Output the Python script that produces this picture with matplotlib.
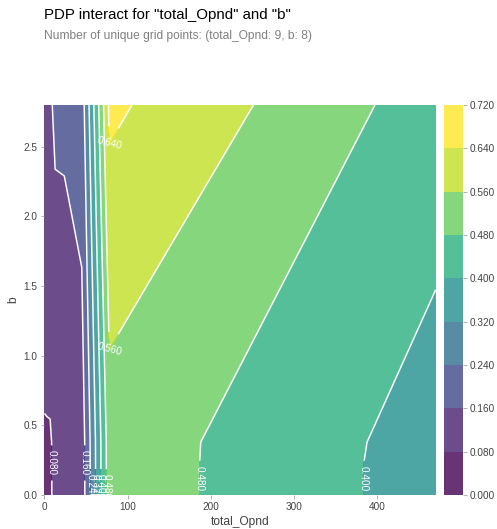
import numpy as np
import matplotlib
matplotlib.use("Agg")
import matplotlib.pyplot as plt
from matplotlib.colors import Normalize

plt.rcParams["font.family"] = ["Liberation Sans", "DejaVu Sans"]

# grid points of the two features
total_opnd_grid = [0, 1, 3, 7, 13, 24, 45, 78, 470]
b_grid = [0.0, 0.01, 0.03, 0.06, 0.12, 0.23, 0.38, 2.8]

# partial dependence values: one row per b grid point, across total_Opnd grid
pdp_b_000 = [0.070, 0.071, 0.072, 0.074, 0.092, 0.100, 0.115, 0.524, 0.365]
pdp_b_001 = [0.070, 0.071, 0.072, 0.074, 0.092, 0.100, 0.115, 0.524, 0.365]
pdp_b_003 = [0.070, 0.071, 0.072, 0.074, 0.092, 0.100, 0.115, 0.524, 0.365]
pdp_b_006 = [0.070, 0.071, 0.072, 0.074, 0.092, 0.100, 0.115, 0.524, 0.365]
pdp_b_012 = [0.070, 0.071, 0.072, 0.074, 0.092, 0.100, 0.115, 0.524, 0.365]
pdp_b_023 = [0.070, 0.071, 0.072, 0.074, 0.092, 0.100, 0.115, 0.524, 0.365]
pdp_b_038 = [0.074, 0.074, 0.0745, 0.075, 0.092, 0.100, 0.117, 0.524, 0.367]
pdp_b_280 = [0.145, 0.146, 0.147, 0.148, 0.176, 0.176, 0.200, 0.655, 0.440]

contour_levels = [0.000, 0.080, 0.160, 0.240, 0.320, 0.400, 0.480, 0.560, 0.640, 0.720]

title = 'PDP interact for "total_Opnd" and "b"'
subtitle = "Number of unique grid points: (total_Opnd: 9, b: 8)"

W, H = 497, 529
fig = plt.figure(figsize=(W / 72, H / 72), dpi=72)

fig.text(44.3 / W, 1 - 19 / H, title, fontsize=15, color="black", va="baseline", ha="left")
fig.text(44.3 / W, 1 - 39.5 / H, subtitle, fontsize=12, color="grey", va="baseline", ha="left")

ax = fig.add_axes([44.3 / W, 34 / H, 391.4 / W, 390 / H])
pdp = np.array([pdp_b_000, pdp_b_001, pdp_b_003, pdp_b_006,
                pdp_b_012, pdp_b_023, pdp_b_038, pdp_b_280])
X, Y = np.meshgrid(total_opnd_grid, b_grid)

# colour scale spans the range of the partial dependence values
norm = Normalize(vmin=pdp.min(), vmax=pdp.max())
filled = ax.contourf(X, Y, pdp, levels=contour_levels, cmap="viridis", norm=norm, alpha=0.8)
lines = ax.contour(filled, levels=filled.levels, colors="white", linewidths=1.5)
ax.clabel(lines, fontsize=10, inline=True, fmt="%.3f")

ax.set_frame_on(False)
ax.tick_params(axis="both", which="major", labelsize=10, labelcolor="#424242", colors="#9E9E9E")
ax.set_xlabel("total_Opnd", fontsize=12, color="#424242")
ax.set_ylabel("b", fontsize=12, color="#424242")

cax = fig.add_axes([443.5 / W, 34 / H, 19.6 / W, 390 / H])
cb = fig.colorbar(filled, cax=cax, format="%.3f")
cb.outline.set_visible(False)
cax.tick_params(labelsize=10, labelcolor="#424242", colors="#9E9E9E")

fig.savefig("out.png", dpi=72)
